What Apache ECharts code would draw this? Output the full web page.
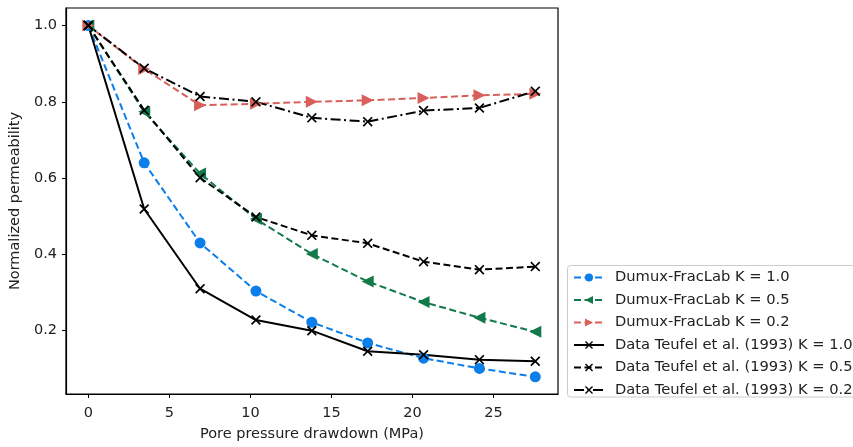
<!DOCTYPE html>
<html>
<head>
<meta charset="utf-8">
<script src="https://cdn.jsdelivr.net/npm/echarts@6/dist/echarts.min.js"></script>
<style>
html,body{margin:0;padding:0;background:#fff;}
#chart{width:853px;height:447px;}
</style>
</head>
<body>
<div id="chart"></div>
<script>
// Data
var pressure = [0, 3.447, 6.895, 10.342, 13.790, 17.237, 20.684, 24.132, 27.579];
var dumuxK10 = [1.0, 0.640, 0.430, 0.304, 0.222, 0.168, 0.128, 0.101, 0.079];
var dumuxK05 = [1.0, 0.774, 0.612, 0.493, 0.401, 0.329, 0.275, 0.234, 0.197];
var dumuxK02 = [1.0, 0.886, 0.791, 0.795, 0.800, 0.804, 0.810, 0.817, 0.821];
var teufelK10 = [1.0, 0.519, 0.310, 0.228, 0.200, 0.146, 0.137, 0.124, 0.120];
var teufelK05 = [1.0, 0.778, 0.601, 0.498, 0.450, 0.429, 0.381, 0.360, 0.368];
var teufelK02 = [1.0, 0.888, 0.814, 0.800, 0.758, 0.748, 0.777, 0.784, 0.828];
var seriesNames = [
  'Dumux-FracLab K = 1.0',
  'Dumux-FracLab K = 0.5',
  'Dumux-FracLab K = 0.2',
  'Data Teufel et al. (1993) K = 1.0',
  'Data Teufel et al. (1993) K = 0.5',
  'Data Teufel et al. (1993) K = 0.2'
];
var xTicks = [0, 5, 10, 15, 20, 25];
var yTicks = [0.2, 0.4, 0.6, 0.8, 1.0];
var xLabel = 'Pore pressure drawdown (MPa)';
var yLabel = 'Normalized permeability';

function pairs(ys) { return pressure.map(function (x, i) { return [x, ys[i]]; }); }

var FONT = 'DejaVu Sans';
var XSYM = 'path://M0,1.2L1.2,0L5,3.8L8.8,0L10,1.2L6.2,5L10,8.8L8.8,10L5,6.2L1.2,10L0,8.8L3.8,5Z';
var LTRI = 'path://M0,5L10,0L10,10Z';
var RTRI = 'path://M10,5L0,0L0,10Z';
var DASH = [7, 3.5];
var DASHDOT = [10, 3.5, 2, 3.5];

function mk(name, ys, color, symbol, size, dash) {
  return {
    name: name,
    type: 'line',
    data: pairs(ys),
    symbol: symbol,
    symbolSize: size,
    showAllSymbol: true,
    z: 3,
    itemStyle: { color: color, opacity: 1 },
    lineStyle: { color: color, width: 2, type: dash },
    emphasis: { disabled: true },
    animation: false
  };
}

var chart = echarts.init(document.getElementById('chart'), null, { renderer: 'canvas' });
chart.setOption({
  backgroundColor: '#fff',
  animation: false,
  textStyle: { fontFamily: FONT },
  grid: { left: 65, right: 295, top: 8, bottom: 49, show: true, borderColor: '#000', borderWidth: 1.2, backgroundColor: 'transparent' },
  graphic: [{
    type: 'rect',
    z: 0,
    silent: true,
    shape: { x: 567.5, y: 265.5, width: 310, height: 131.5, r: 3 },
    style: { fill: '#fff', stroke: '#cccccc', lineWidth: 1 }
  }],
  legend: {
    orient: 'vertical',
    left: 567,
    top: 266,
    z: 5,
    padding: [4, 8, 4, 6],
    itemWidth: 30,
    itemHeight: 10,
    itemGap: 7.5,
    backgroundColor: 'transparent',
    borderWidth: 0,
    textStyle: { fontFamily: FONT, fontSize: 14.7, color: '#222', lineHeight: 14, padding: [0, 0, 0, 6] },
    data: seriesNames
  },
  xAxis: {
    type: 'value',
    min: -1.38,
    max: 28.98,
    name: xLabel,
    nameLocation: 'middle',
    nameGap: 33,
    nameTextStyle: { fontFamily: FONT, fontSize: 14.5, color: '#222' },
    splitLine: { show: false },
    axisLine: { show: true, onZero: false, lineStyle: { color: '#000', width: 1.2 } },
    axisTick: { show: true, length: 4, customValues: xTicks, lineStyle: { color: '#000' } },
    axisLabel: { customValues: xTicks, margin: 12, fontFamily: FONT, fontSize: 14.5, color: '#222' }
  },
  yAxis: {
    type: 'value',
    min: 0.034,
    max: 1.046,
    name: yLabel,
    nameLocation: 'middle',
    nameGap: 38,
    nameTextStyle: { fontFamily: FONT, fontSize: 14.5, color: '#222' },
    splitLine: { show: false },
    axisLine: { show: true, onZero: false, lineStyle: { color: '#000', width: 1.2 } },
    axisTick: { show: true, length: 4, customValues: yTicks, lineStyle: { color: '#000' } },
    axisLabel: { customValues: yTicks, margin: 9, fontFamily: FONT, fontSize: 14.5, color: '#222',
      formatter: function (v) { return v.toFixed(1); } }
  },
  series: [
    mk(seriesNames[0], dumuxK10, '#0b7eea', 'circle', 11, DASH),
    mk(seriesNames[1], dumuxK05, '#127a4a', LTRI, 12, DASH),
    mk(seriesNames[2], dumuxK02, '#d9605a', RTRI, 12, DASH),
    mk(seriesNames[3], teufelK10, '#000000', XSYM, 10, 'solid'),
    mk(seriesNames[4], teufelK05, '#000000', XSYM, 10, DASH),
    mk(seriesNames[5], teufelK02, '#000000', XSYM, 10, DASHDOT)
  ]
});
</script>
</body>
</html>
